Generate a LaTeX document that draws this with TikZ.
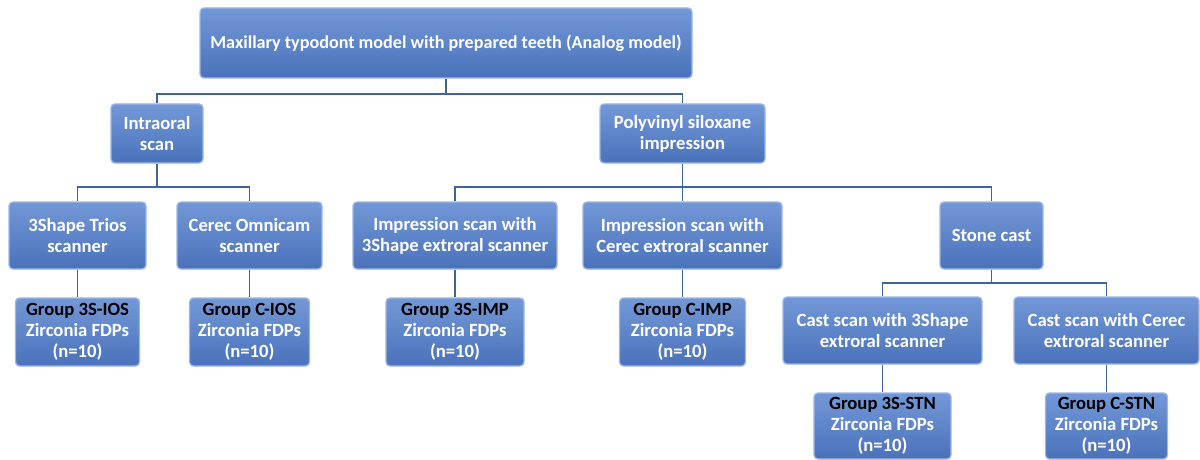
\documentclass[tikz,border=0pt]{standalone}
\usepackage{fontspec}
\setmainfont{Carlito}
\definecolor{boxtop}{HTML}{7398D8}
\definecolor{boxbot}{HTML}{4A72BA}
\definecolor{boxedge}{HTML}{9DB6E2}
\definecolor{linec}{HTML}{3F639E}
\tikzset{
  box/.style={rounded corners=3pt, draw=boxedge, line width=1pt,
    top color=boxtop, bottom color=boxbot, text=white,
    font=\fontsize{14}{15.8}\selectfont\bfseries, align=center,
    inner sep=0pt},
  conn/.style={draw=linec, line width=1.1pt},
}
\newcommand{\grp}[1]{\textcolor{black}{#1}\\Zirconia FDPs\\(n=10)}
\begin{document}
\begin{tikzpicture}[x=0.75pt,y=-0.75pt]
\useasboundingbox (0,0) rectangle (1200,460);
\node[box, minimum width=369pt, minimum height=52.5pt, font=\fontsize{13.6}{15.8}\selectfont\bfseries] (top) at (446,43) {Maxillary typodont model with prepared teeth (Analog model)};
\node[box, minimum width=69pt, minimum height=44.25pt] (intra) at (157,133.5) {Intraoral\\scan};
\node[box, minimum width=123.75pt, minimum height=44.25pt] (poly) at (682.5,133.5) {Polyvinyl siloxane\\impression};
\node[box, minimum width=102.75pt, minimum height=50.25pt] (trios) at (77.5,235.5) {3Shape Trios\\scanner};
\node[box, minimum width=108.75pt, minimum height=50.25pt] (omni) at (249.5,235.5) {Cerec Omnicam\\scanner};
\node[box, minimum width=153pt, minimum height=50.25pt] (imp3) at (455,235.5) {Impression scan with\\3Shape extroral scanner};
\node[box, minimum width=149.25pt, minimum height=50.25pt] (impc) at (682.5,235.5) {Impression scan with\\Cerec extroral scanner};
\node[box, minimum width=77.25pt, minimum height=50.25pt] (stone) at (991.5,235.5) {Stone cast};
\node[box, minimum width=93pt, minimum height=51pt] (g3ios) at (77.5,332) {\grp{Group 3S-IOS}};
\node[box, minimum width=90pt, minimum height=51pt] (gcios) at (249.5,332) {\grp{Group C-IOS}};
\node[box, minimum width=103.5pt, minimum height=51pt] (g3imp) at (455,332) {\grp{Group 3S-IMP}};
\node[box, minimum width=94.5pt, minimum height=51pt] (gcimp) at (682.5,332) {\grp{Group C-IMP}};
\node[box, minimum width=149.25pt, minimum height=50.25pt] (cast3) at (882.5,330.5) {Cast scan with 3Shape\\extroral scanner};
\node[box, minimum width=138.75pt, minimum height=50.25pt] (castc) at (1106.5,330.5) {Cast scan with Cerec\\extroral scanner};
\node[box, minimum width=102.75pt, minimum height=49.5pt] (g3stn) at (882.5,426) {\grp{Group 3S-STN}};
\node[box, minimum width=91.5pt, minimum height=49.5pt] (gcstn) at (1106.5,426) {\grp{Group C-STN}};
\coordinate (bus1) at (0,94);
\coordinate (bus2) at (0,187);
\coordinate (bus3) at (0,283);
\draw[conn] (top.south) -- (top.south |- bus1) -| (intra.north);
\draw[conn] (top.south |- bus1) -| (poly.north);
\draw[conn] (intra.south) -- (intra.south |- bus2) -| (trios.north);
\draw[conn] (intra.south |- bus2) -| (omni.north);
\draw[conn] (poly.south) -- (poly.south |- bus2) -| (imp3.north);
\draw[conn] (poly.south |- bus2) -- (impc.north);
\draw[conn] (poly.south |- bus2) -| (stone.north);
\draw[conn] (stone.south) -- (stone.south |- bus3) -| (cast3.north);
\draw[conn] (stone.south |- bus3) -| (castc.north);
\draw[conn] (trios) -- (g3ios);
\draw[conn] (omni) -- (gcios);
\draw[conn] (imp3) -- (g3imp);
\draw[conn] (impc) -- (gcimp);
\draw[conn] (cast3) -- (g3stn);
\draw[conn] (castc) -- (gcstn);
\end{tikzpicture}
\end{document}
